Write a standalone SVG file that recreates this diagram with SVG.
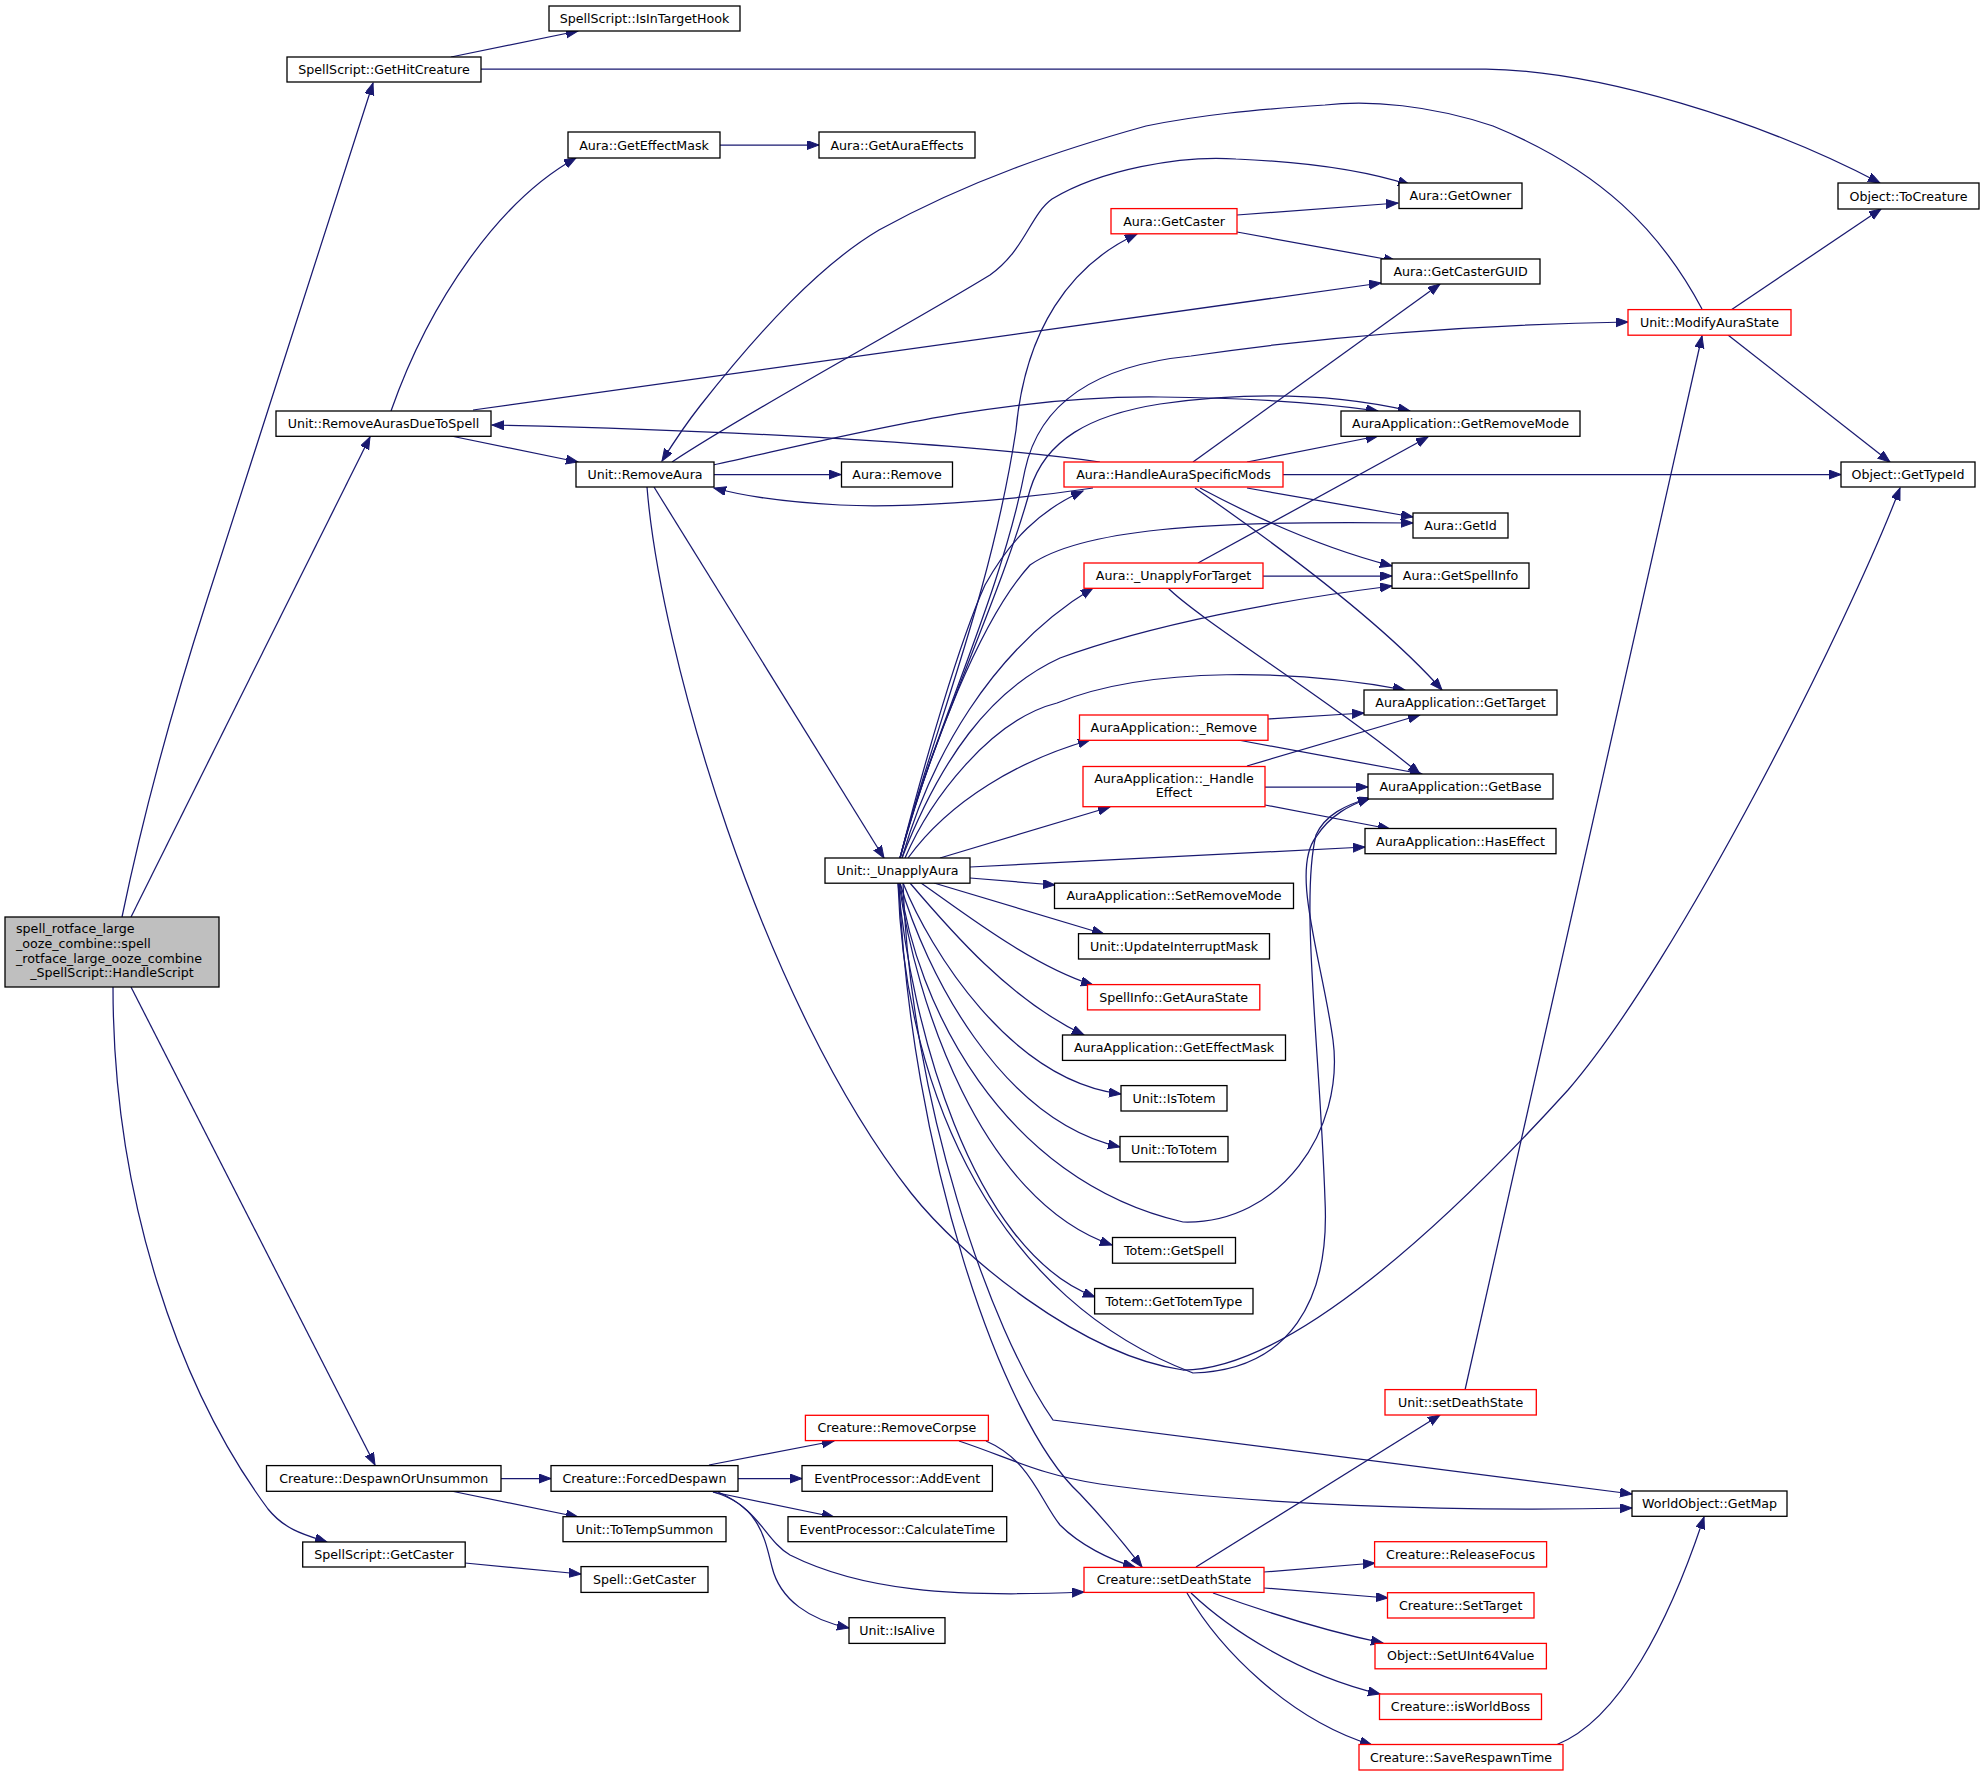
<svg xmlns="http://www.w3.org/2000/svg" width="1984" height="1776" viewBox="0 0 1984 1776">
<defs>
<style>
.n rect{fill:#fff;stroke:#000;stroke-width:1.3}
.r rect{stroke:#ff0000}
.m rect{fill:#bfbfbf}
text{font-family:"DejaVu Sans","Liberation Sans",sans-serif;font-size:12.65px;fill:#000;text-anchor:middle}
.e path{fill:none;stroke:#191970;stroke-width:1.25;marker-end:url(#a)}
</style>
<marker id="a" markerUnits="userSpaceOnUse" markerWidth="14" markerHeight="10" refX="12" refY="4.5" orient="auto">
<path d="M0,0 L12,4.5 L0,9 z" fill="#191970" stroke="#191970" stroke-width="1"/>
</marker>
</defs>
<rect width="1984" height="1776" fill="#fff"/>
<g id="edges" class="e">
<path d="M122,917 C140,830 170,715 207,600 L373,83"/>
<path d="M131,917 L370,437"/>
<path d="M131,987 L375,1465"/>
<path d="M113,987 C113,1200 180,1390 268,1509 C285,1530 305,1535 327,1542"/>
<path d="M451,57 L578,31"/>
<path d="M481,69 L1486,69 C1600,71 1760,120 1880,183"/>
<path d="M720,145 L819,145"/>
<path d="M391,411 C430,300 500,200 576,158"/>
<path d="M473,410 L1381,283"/>
<path d="M451,436 L578,462"/>
<path d="M1100,462 C1000,448 800,432 492,425"/>
<path d="M1093,488 C1000,502 900,508 840,505 C780,502 740,495 714,488"/>
<path d="M714,474.5 L841,474.5"/>
<path d="M1702,309 C1660,230 1600,170 1493,126 C1430,105 1370,100 1325,105 C1250,110 1200,115 1146,126 C1060,150 970,180 879,230 C820,265 760,330 700,406 C685,425 672,445 662,461"/>
<path d="M672,462 C750,410 900,330 990,275 C1025,250 1030,215 1052,199 C1100,170 1180,155 1236,159 C1310,162 1370,172 1410,185"/>
<path d="M713,465 C850,435 1000,395 1160,397 C1260,398 1330,404 1378,411"/>
<path d="M654,487 L884,858"/>
<path d="M647,487 C660,650 760,1000 911,1193 C960,1255 1080,1355 1183,1370 C1290,1370 1450,1220 1568,1090 C1680,960 1850,620 1900,488"/>
<path d="M1237,215 L1398,203"/>
<path d="M1237,232 L1396,261"/>
<path d="M1193,462 L1440,284"/>
<path d="M1247,462 L1378,436"/>
<path d="M1283,474.5 L1841,474.5"/>
<path d="M1247,488 L1413,517"/>
<path d="M1200,488 C1260,520 1330,550 1392,566"/>
<path d="M1195,488 C1270,540 1380,620 1442,690"/>
<path d="M1198,563 L1428,437"/>
<path d="M1263,576 L1392,576"/>
<path d="M1168,588 C1200,620 1330,700 1420,774"/>
<path d="M1268,719 L1364,713"/>
<path d="M1238,740 L1422,774"/>
<path d="M1247,766 L1420,715"/>
<path d="M1265,787 L1368,787"/>
<path d="M1265,805 L1390,829"/>
<path d="M900,858 C930,740 990,600 1016,430 C1025,330 1070,265 1137,234"/>
<path d="M900,858 C930,740 1000,600 1025,470 C1040,400 1100,365 1191,356 C1300,340 1450,325 1628,322"/>
<path d="M900,858 C930,740 1000,600 1030,490 C1045,440 1090,415 1160,404 C1260,390 1340,395 1410,411"/>
<path d="M900,858 C925,760 960,640 985,585 C1010,540 1040,510 1083,491"/>
<path d="M900,858 C930,750 980,620 1030,565 C1080,530 1200,520 1413,523"/>
<path d="M902,858 C930,760 990,650 1093,588"/>
<path d="M902,858 C940,760 990,690 1060,658 C1150,625 1280,600 1392,586"/>
<path d="M905,858 C930,800 990,720 1057,703 C1150,665 1300,670 1405,690"/>
<path d="M908,858 C950,800 1020,760 1090,740"/>
<path d="M940,858 L1110,807"/>
<path d="M970,867 L1365,847"/>
<path d="M970,878 L1055,885"/>
<path d="M934,883 L1104,934"/>
<path d="M921,883 C960,910 1030,965 1093,985"/>
<path d="M910,883 C950,930 1010,1000 1084,1035"/>
<path d="M903,883 C930,950 1010,1080 1121,1094"/>
<path d="M900,883 C925,970 1000,1120 1120,1147"/>
<path d="M899,883 C915,1000 980,1200 1112,1245"/>
<path d="M898,883 C910,1020 970,1250 1095,1297"/>
<path d="M900,883 C915,1000 1000,1180 1183,1222 C1280,1225 1345,1130 1333,1040 C1322,960 1290,870 1316,837 C1330,815 1350,805 1370,798"/>
<path d="M898,883 C905,1100 1000,1300 1193,1373 C1290,1370 1330,1300 1325,1200 C1320,1050 1300,900 1316,835 C1325,815 1345,805 1370,798"/>
<path d="M899,883 C910,1150 1000,1420 1080,1494 C1100,1515 1125,1545 1142,1567"/>
<path d="M903,883 C910,1100 990,1330 1053,1420 L1632,1494"/>
<path d="M959,1441 C1010,1458 1040,1475 1100,1484 C1250,1505 1450,1512 1632,1508"/>
<path d="M986,1441 C1030,1460 1040,1500 1060,1525 C1080,1545 1110,1560 1135,1567"/>
<path d="M709,1465 L834,1441"/>
<path d="M501,1478.5 L551,1478.5"/>
<path d="M738,1478.5 L802,1478.5"/>
<path d="M713,1492 L834,1517"/>
<path d="M718,1492 C760,1510 765,1540 790,1555 C860,1590 950,1598 1084,1592"/>
<path d="M713,1492 C760,1505 765,1540 772,1567 C780,1600 810,1620 849,1628"/>
<path d="M451,1491 L578,1517"/>
<path d="M465,1563 L581,1574"/>
<path d="M1196,1567 L1440,1415"/>
<path d="M1465,1390 L1702,336"/>
<path d="M1264,1572 L1375,1563"/>
<path d="M1264,1588 L1388,1598"/>
<path d="M1213,1593 C1260,1610 1320,1630 1383,1643"/>
<path d="M1191,1593 C1230,1630 1300,1675 1380,1694"/>
<path d="M1187,1593 C1220,1650 1290,1720 1372,1745"/>
<path d="M1556,1745 C1620,1720 1670,1620 1704,1517"/>
<path d="M1731,310 L1881,209"/>
<path d="M1728,335 L1890,462"/>
</g>
<g id="n_main" class="n m"><rect x="5" y="917" width="214" height="70"/>
<text x="16" y="933" style="text-anchor:start">spell_rotface_large</text>
<text x="16" y="947.5" style="text-anchor:start">_ooze_combine::spell</text>
<text x="16" y="962.5" style="text-anchor:start">_rotface_large_ooze_combine</text>
<text x="112" y="977">_SpellScript::HandleScript</text></g>
<g id="n1" class="n"><rect x="549" y="6" width="191" height="25"/><text x="644.5" y="23">SpellScript::IsInTargetHook</text></g>
<g id="n2" class="n"><rect x="287" y="57" width="194" height="25"/><text x="384" y="74">SpellScript::GetHitCreature</text></g>
<g id="n3" class="n"><rect x="568" y="132" width="152" height="26"/><text x="644" y="149.5">Aura::GetEffectMask</text></g>
<g id="n4" class="n"><rect x="819" y="132" width="156" height="26"/><text x="897" y="149.5">Aura::GetAuraEffects</text></g>
<g id="n5" class="n"><rect x="1399" y="183" width="123" height="25.5"/><text x="1460.5" y="200">Aura::GetOwner</text></g>
<g id="n6" class="n"><rect x="1838" y="183" width="141" height="26"/><text x="1908.5" y="200.5">Object::ToCreature</text></g>
<g id="n7" class="n r"><rect x="1111" y="208.6" width="126" height="25.2"/><text x="1174" y="225.5">Aura::GetCaster</text></g>
<g id="n8" class="n"><rect x="1381" y="259" width="159" height="25"/><text x="1460.5" y="276">Aura::GetCasterGUID</text></g>
<g id="n9" class="n r"><rect x="1628" y="309.6" width="163" height="25.6"/><text x="1709.5" y="327">Unit::ModifyAuraState</text></g>
<g id="n10" class="n"><rect x="276" y="411" width="215" height="25.3"/><text x="383.5" y="428">Unit::RemoveAurasDueToSpell</text></g>
<g id="n11" class="n"><rect x="1341" y="411" width="239" height="25.3"/><text x="1460.5" y="428">AuraApplication::GetRemoveMode</text></g>
<g id="n12" class="n"><rect x="576" y="462" width="138" height="25"/><text x="645" y="479">Unit::RemoveAura</text></g>
<g id="n13" class="n"><rect x="841.5" y="462" width="111" height="25"/><text x="897" y="479">Aura::Remove</text></g>
<g id="n14" class="n r"><rect x="1064" y="462" width="219" height="25"/><text x="1173.5" y="479">Aura::HandleAuraSpecificMods</text></g>
<g id="n15" class="n"><rect x="1841" y="462" width="134" height="25"/><text x="1908" y="479">Object::GetTypeId</text></g>
<g id="n16" class="n"><rect x="1413" y="513" width="95" height="25"/><text x="1460.5" y="530">Aura::GetId</text></g>
<g id="n17" class="n r"><rect x="1084" y="563" width="179" height="25.3"/><text x="1173.5" y="580">Aura::_UnapplyForTarget</text></g>
<g id="n18" class="n"><rect x="1392" y="563" width="137" height="25.3"/><text x="1460.5" y="580">Aura::GetSpellInfo</text></g>
<g id="n19" class="n"><rect x="1364" y="690" width="193" height="25"/><text x="1460.5" y="707">AuraApplication::GetTarget</text></g>
<g id="n20" class="n r"><rect x="1079.5" y="715" width="188.5" height="25.3"/><text x="1173.8" y="732">AuraApplication::_Remove</text></g>
<g id="n21" class="n r"><rect x="1083" y="766.5" width="182" height="40.2"/><text x="1174" y="783">AuraApplication::_Handle</text><text x="1174" y="796.5">Effect</text></g>
<g id="n22" class="n"><rect x="1368" y="774" width="185" height="25"/><text x="1460.5" y="791">AuraApplication::GetBase</text></g>
<g id="n23" class="n"><rect x="1365" y="828.5" width="191" height="25.2"/><text x="1460.5" y="845.5">AuraApplication::HasEffect</text></g>
<g id="n24" class="n"><rect x="825" y="858" width="145" height="25.2"/><text x="897.5" y="875">Unit::_UnapplyAura</text></g>
<g id="n25" class="n"><rect x="1054.5" y="883.2" width="239" height="25.3"/><text x="1174" y="900">AuraApplication::SetRemoveMode</text></g>
<g id="n26" class="n"><rect x="1078.5" y="933.7" width="191" height="25.3"/><text x="1174" y="950.5">Unit::UpdateInterruptMask</text></g>
<g id="n27" class="n r"><rect x="1087.5" y="984.6" width="172.3" height="25.3"/><text x="1173.7" y="1001.5">SpellInfo::GetAuraState</text></g>
<g id="n28" class="n"><rect x="1062.5" y="1035" width="223" height="25.4"/><text x="1174" y="1052">AuraApplication::GetEffectMask</text></g>
<g id="n29" class="n"><rect x="1121" y="1085.6" width="106" height="25.4"/><text x="1174" y="1102.5">Unit::IsTotem</text></g>
<g id="n30" class="n"><rect x="1120" y="1136.5" width="108" height="25.3"/><text x="1174" y="1153.5">Unit::ToTotem</text></g>
<g id="n31" class="n"><rect x="1112.5" y="1237.5" width="123" height="25.7"/><text x="1174" y="1254.5">Totem::GetSpell</text></g>
<g id="n32" class="n"><rect x="1094.6" y="1288.5" width="158.4" height="25.4"/><text x="1173.8" y="1305.5">Totem::GetTotemType</text></g>
<g id="n33" class="n r"><rect x="1385" y="1389.6" width="151.3" height="25.4"/><text x="1460.6" y="1406.5">Unit::setDeathState</text></g>
<g id="n34" class="n r"><rect x="805.4" y="1415.3" width="183" height="25.3"/><text x="896.9" y="1432.3">Creature::RemoveCorpse</text></g>
<g id="n35" class="n"><rect x="266.5" y="1465.6" width="234.5" height="25.7"/><text x="383.7" y="1482.8">Creature::DespawnOrUnsummon</text></g>
<g id="n36" class="n"><rect x="551" y="1465.6" width="187" height="25.7"/><text x="644.5" y="1482.8">Creature::ForcedDespawn</text></g>
<g id="n37" class="n"><rect x="802" y="1465.6" width="190.4" height="25.7"/><text x="897.2" y="1482.8">EventProcessor::AddEvent</text></g>
<g id="n38" class="n"><rect x="1632" y="1491" width="155" height="25.3"/><text x="1709.5" y="1508">WorldObject::GetMap</text></g>
<g id="n39" class="n"><rect x="563" y="1516.7" width="163" height="25"/><text x="644.5" y="1533.7">Unit::ToTempSummon</text></g>
<g id="n40" class="n"><rect x="788" y="1516.7" width="218.7" height="25"/><text x="897.3" y="1533.7">EventProcessor::CalculateTime</text></g>
<g id="n41" class="n"><rect x="302.7" y="1542" width="162.5" height="25"/><text x="384" y="1559">SpellScript::GetCaster</text></g>
<g id="n42" class="n"><rect x="581" y="1566.6" width="127" height="25.8"/><text x="644.5" y="1583.8">Spell::GetCaster</text></g>
<g id="n43" class="n r"><rect x="1084" y="1567.4" width="180" height="25"/><text x="1174" y="1584.4">Creature::setDeathState</text></g>
<g id="n44" class="n r"><rect x="1374.6" y="1541.7" width="172" height="25.3"/><text x="1460.6" y="1558.7">Creature::ReleaseFocus</text></g>
<g id="n45" class="n r"><rect x="1387.5" y="1592.7" width="146.5" height="25.3"/><text x="1460.7" y="1609.7">Creature::SetTarget</text></g>
<g id="n46" class="n r"><rect x="1375" y="1643.4" width="171.4" height="25.4"/><text x="1460.7" y="1660.4">Object::SetUInt64Value</text></g>
<g id="n47" class="n"><rect x="849" y="1617.7" width="96" height="25.7"/><text x="897" y="1634.8">Unit::IsAlive</text></g>
<g id="n48" class="n r"><rect x="1379.5" y="1694" width="162" height="25.5"/><text x="1460.5" y="1711">Creature::isWorldBoss</text></g>
<g id="n49" class="n r"><rect x="1359" y="1744.5" width="204" height="25.5"/><text x="1461" y="1761.5">Creature::SaveRespawnTime</text></g>
</svg>
